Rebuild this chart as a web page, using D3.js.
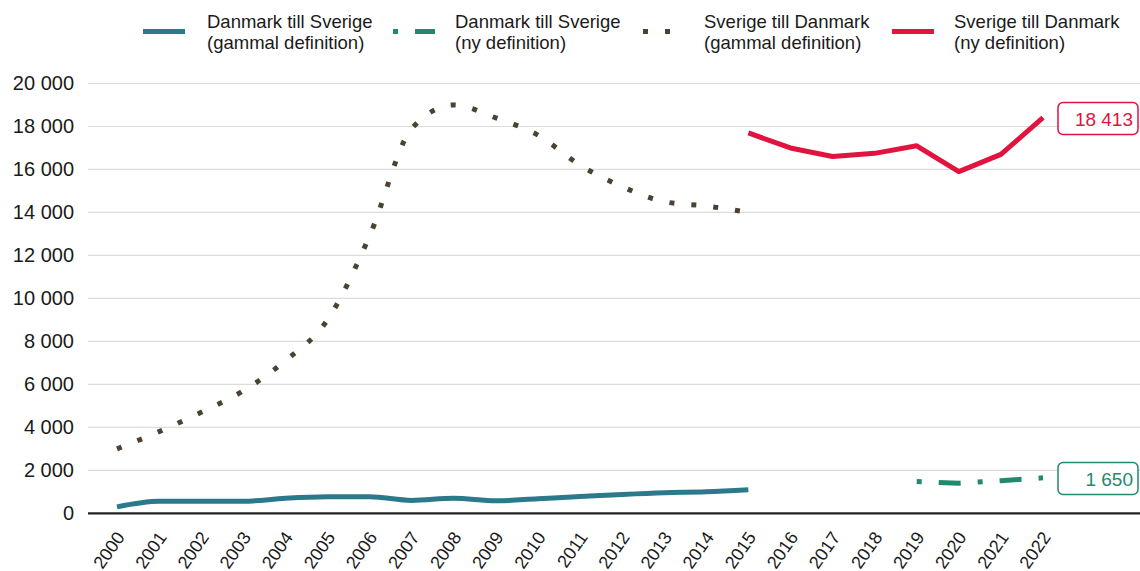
<!DOCTYPE html>
<html>
<head>
<meta charset="utf-8">
<script src="https://cdn.jsdelivr.net/npm/d3@7"></script>
<style>
  body { margin: 0; background: #fff; }
  svg text { font-family: "Liberation Sans", Arial, sans-serif; fill: #1a1a1a; }
</style>
</head>
<body>
<div id="chart"></div>
<script>
var W = 1140, H = 571;

// data
var years = d3.range(2000, 2023);
var dkSeOldYears = d3.range(2000, 2016);
var dkSeOld = [300, 560, 560, 560, 700, 770, 770, 600, 700, 580, 680, 780, 880, 960, 1000, 1100];
var dkSeNewYears = [2019, 2020, 2021, 2022];
var dkSeNew = [1480, 1400, 1520, 1650];
var seDkOldYears = d3.range(2000, 2016);
var seDkOld = [3000, 3800, 4700, 5700, 7100, 9000, 12900, 17900, 19000, 18400, 17600, 16200, 15200, 14500, 14300, 14000];
var seDkNewYears = [2015, 2016, 2017, 2018, 2019, 2020, 2021, 2022];
var seDkNew = [17700, 17000, 16600, 16750, 17100, 15900, 16700, 18413];
var yTicks = [0, 2000, 4000, 6000, 8000, 10000, 12000, 14000, 16000, 18000, 20000];

var colTeal = '#2b7a8b', colGreen = '#1f8a6e', colBrown = '#4b4232', colRed = '#e0143e';

var svg = d3.select('#chart').append('svg')
  .attr('width', W)
  .attr('height', H);

var x = d3.scaleLinear().domain([2000, 2022]).range([117, 1043]);
var y = d3.scaleLinear().domain([0, 20000]).range([513.3, 83.5]);

var fmt = function(v) { return d3.format(',')(v).replace(/,/g, ' '); };

// grid
svg.append('g').selectAll('line')
  .data(yTicks.slice(1))
  .enter().append('line')
  .attr('x1', 88).attr('x2', W)
  .attr('y1', function(d) { return y(d); })
  .attr('y2', function(d) { return y(d); })
  .attr('stroke', '#dcdcdc')
  .attr('stroke-width', 1.2);

// y axis labels
var yAxis = d3.axisLeft(y).tickValues(yTicks).tickSize(0).tickPadding(0).tickFormat(fmt);
svg.append('g')
  .attr('transform', 'translate(74,0)')
  .call(yAxis)
  .call(function(g) {
    g.select('.domain').remove();
    g.selectAll('text').attr('font-size', 20).attr('fill', '#1a1a1a')
      .style('font-family', '"Liberation Sans", Arial, sans-serif');
  });

// x axis
var xAxis = d3.axisBottom(x).tickValues(years).tickSize(0).tickFormat(d3.format('d'));
svg.append('g')
  .attr('transform', 'translate(0,' + y(0) + ')')
  .call(xAxis)
  .call(function(g) {
    g.select('.domain').remove();
    g.selectAll('text')
      .attr('font-size', 18)
      .attr('fill', '#1a1a1a')
      .style('font-family', '"Liberation Sans", Arial, sans-serif')
      .attr('text-anchor', 'end')
      .attr('y', 0)
      .attr('dy', 0)
      .attr('transform', 'translate(8,24) rotate(-55)');
  });

svg.append('line')
  .attr('x1', 88).attr('x2', W)
  .attr('y1', y(0)).attr('y2', y(0))
  .attr('stroke', '#222')
  .attr('stroke-width', 2.2);

function series(xs, vs) {
  return xs.map(function(d, i) { return [d, vs[i]]; });
}

var lineStraight = d3.line().x(function(d) { return x(d[0]); }).y(function(d) { return y(d[1]); });
var lineSmooth = d3.line().curve(d3.curveMonotoneX).x(function(d) { return x(d[0]); }).y(function(d) { return y(d[1]); });

svg.append('path')
  .datum(series(seDkOldYears, seDkOld))
  .attr('d', lineSmooth)
  .attr('fill', 'none')
  .attr('stroke', colBrown)
  .attr('stroke-width', 5)
  .attr('stroke-dasharray', '5,17');

svg.append('path')
  .datum(series(dkSeOldYears, dkSeOld))
  .attr('d', lineSmooth)
  .attr('fill', 'none')
  .attr('stroke', colTeal)
  .attr('stroke-width', 5);

svg.append('path')
  .datum(series(dkSeNewYears, dkSeNew))
  .attr('d', lineStraight)
  .attr('fill', 'none')
  .attr('stroke', colGreen)
  .attr('stroke-width', 5)
  .attr('stroke-dasharray', '5,17,22,17');

svg.append('path')
  .datum(series(seDkNewYears, seDkNew))
  .attr('d', lineStraight)
  .attr('fill', 'none')
  .attr('stroke', colRed)
  .attr('stroke-width', 5)
  .attr('stroke-linejoin', 'round');

// end value labels
function endLabel(v, color, cy) {
  var g = svg.append('g');
  g.append('rect')
    .attr('x', 1058).attr('y', cy - 16)
    .attr('width', 80).attr('height', 32)
    .attr('rx', 5)
    .attr('fill', '#fff')
    .attr('stroke', color)
    .attr('stroke-width', 1.5);
  g.append('text')
    .attr('x', 1133).attr('y', cy + 7)
    .attr('text-anchor', 'end')
    .attr('font-size', 19)
    .style('fill', color)
    .text(fmt(v));
}
endLabel(seDkNew[seDkNew.length - 1], colRed, 118.5);
endLabel(dkSeNew[dkSeNew.length - 1], colGreen, 478.5);

// legend
var legend = [
  { x: 143, tx: 207, l1: 'Danmark till Sverige', l2: '(gammal definition)', color: colTeal, dash: null },
  { x: 393, tx: 455, l1: 'Danmark till Sverige', l2: '(ny definition)', color: colGreen, dash: '5,17,22,100' },
  { x: 643, tx: 704, l1: 'Sverige till Danmark', l2: '(gammal definition)', color: colBrown, dash: '5,17,5,100' },
  { x: 892, tx: 954, l1: 'Sverige till Danmark', l2: '(ny definition)', color: colRed, dash: null }
];
var lg = svg.append('g').selectAll('g').data(legend).enter().append('g');
lg.append('line')
  .attr('x1', function(d) { return d.x; })
  .attr('x2', function(d) { return d.x + 42; })
  .attr('y1', 31.5).attr('y2', 31.5)
  .attr('stroke', function(d) { return d.color; })
  .attr('stroke-width', 5)
  .attr('stroke-dasharray', function(d) { return d.dash; });
lg.append('text')
  .attr('x', function(d) { return d.tx; })
  .attr('y', 28)
  .attr('font-size', 18.5)
  .text(function(d) { return d.l1; });
lg.append('text')
  .attr('x', function(d) { return d.tx; })
  .attr('y', 49)
  .attr('font-size', 18.5)
  .text(function(d) { return d.l2; });
</script>
</body>
</html>
